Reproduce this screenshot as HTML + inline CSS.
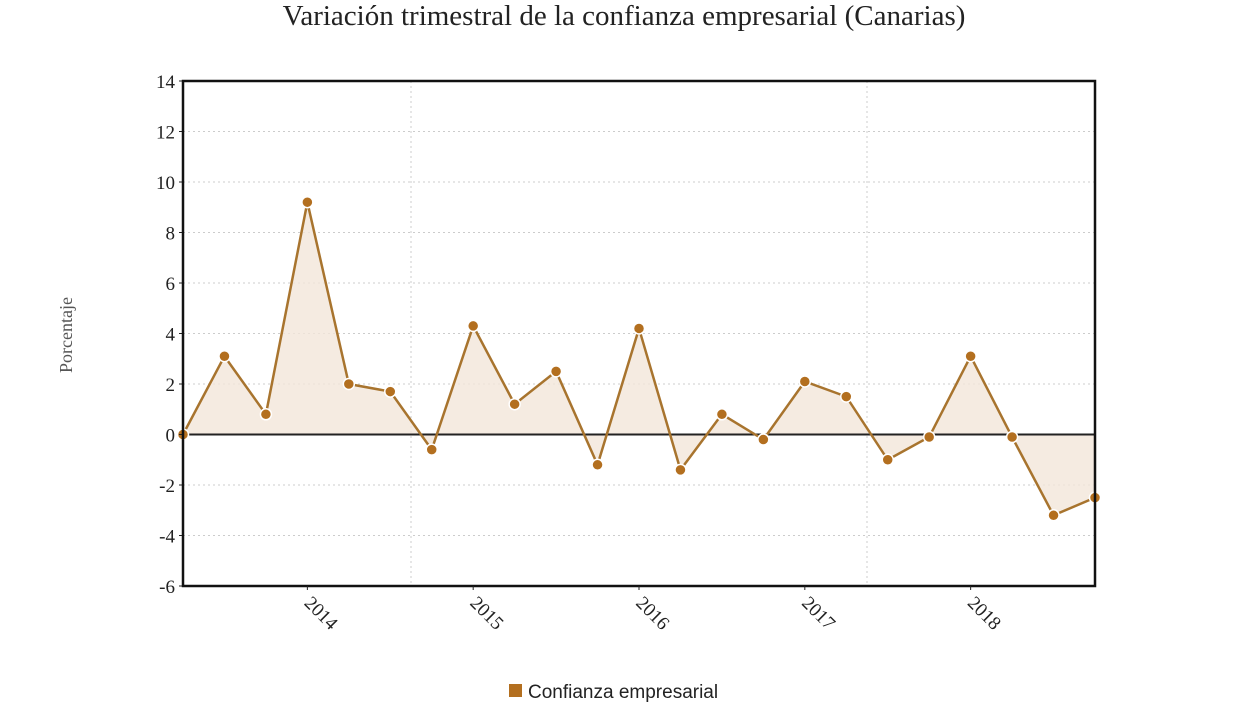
<!DOCTYPE html>
<html><head><meta charset="utf-8"><style>
html,body{margin:0;padding:0;background:#fff;width:1248px;height:702px;overflow:hidden}
svg{display:block}
</style></head><body>
<svg id="c" width="1248" height="702" font-family="Liberation Serif, serif">
<text x="624" y="25" text-anchor="middle" font-size="29" fill="#222">Variación trimestral de la confianza empresarial (Canarias)</text>
<text transform="translate(72,335) rotate(-90)" text-anchor="middle" font-size="18" fill="#555">Porcentaje</text>
<g id="grid"></g>
<g id="marks"></g>
<g id="axes"></g>
<g>
<rect x="509" y="684" width="13" height="13" fill="#b36f1f"/>
<text x="528" y="698" font-family="Liberation Sans, sans-serif" font-size="19" fill="#222">Confianza empresarial</text>
</g>
</svg>
<script>
const values=[0,3.1,0.8,9.2,2.0,1.7,-0.6,4.3,1.2,2.5,-1.2,4.2,-1.4,0.8,-0.2,2.1,1.5,-1.0,-0.1,3.1,-0.1,-3.2,-2.5];
const yTicks=[14,12,10,8,6,4,2,0,-2,-4,-6];
const yearLabels=["2014","2015","2016","2017","2018"];
const yearIndex=[3,7,11,15,19];
const vGridIndex=[5.5,16.5];
const NS="http://www.w3.org/2000/svg";
const L=183,R=1095,T=81,B=586,ymin=-6,ymax=14;
const x=i=>L+i*(R-L)/(values.length-1);
const y=v=>B-(v-ymin)*(B-T)/(ymax-ymin);
function mk(tag,a,p){const e=document.createElementNS(NS,tag);for(const k in a)e.setAttribute(k,a[k]);p.appendChild(e);return e;}
const grid=document.getElementById('grid'),marks=document.getElementById('marks'),axes=document.getElementById('axes');
yTicks.forEach(t=>{
 const g=mk('line',{x1:L,x2:R,y1:y(t),y2:y(t),stroke:'#ccc','stroke-dasharray':'2,3'},grid);
 
 
 const tx=mk('text',{x:L-8,y:y(t)+7,'text-anchor':'end','font-size':19,fill:'#222'},axes);
 tx.textContent=t;
 
 
 mk('line',{x1:L-4,x2:L,y1:y(t),y2:y(t),stroke:'#222'},axes);
});
vGridIndex.forEach(i=>{
 const g=mk('line',{x1:x(i),x2:x(i),y1:T,y2:B,stroke:'#ccc','stroke-dasharray':'2,3'},grid);
 
 
});
let d='M'+x(0)+','+y(0);
values.forEach((v,i)=>d+=' L'+x(i)+','+y(v));
d+=' L'+x(values.length-1)+','+y(0)+' Z';
const area=mk('path',{d:d,fill:'#f3e6da',opacity:0.8},marks);


const zl=mk('line',{x1:L,x2:R,y1:y(0),y2:y(0),stroke:'#222','stroke-width':2},marks);


const line=mk('polyline',{points:values.map((v,i)=>x(i)+','+y(v)).join(' '),fill:'none',stroke:'#a8742e','stroke-width':2.5},marks);


values.forEach((v,i)=>{
 const c=mk('circle',{cx:x(i),cy:y(v),r:5.5,fill:'#b36f1f',stroke:'#fff','stroke-width':1.5},marks);
 
 
});
const fr=mk('rect',{x:L,y:T,width:R-L,height:B-T,fill:'none',stroke:'#111','stroke-width':2.5},axes);


yearLabels.forEach((lab,k)=>{
 const xx=x(yearIndex[k]);
 mk('line',{x1:xx,x2:xx,y1:B,y2:B+4,stroke:'#222'},axes);
 const t=mk('text',{x:0,y:0,'font-size':19,fill:'#222',transform:'translate('+(xx-4)+','+(B+18)+') rotate(45)'},axes);
 t.textContent=lab;
 
 
});
</script>
</body></html>
